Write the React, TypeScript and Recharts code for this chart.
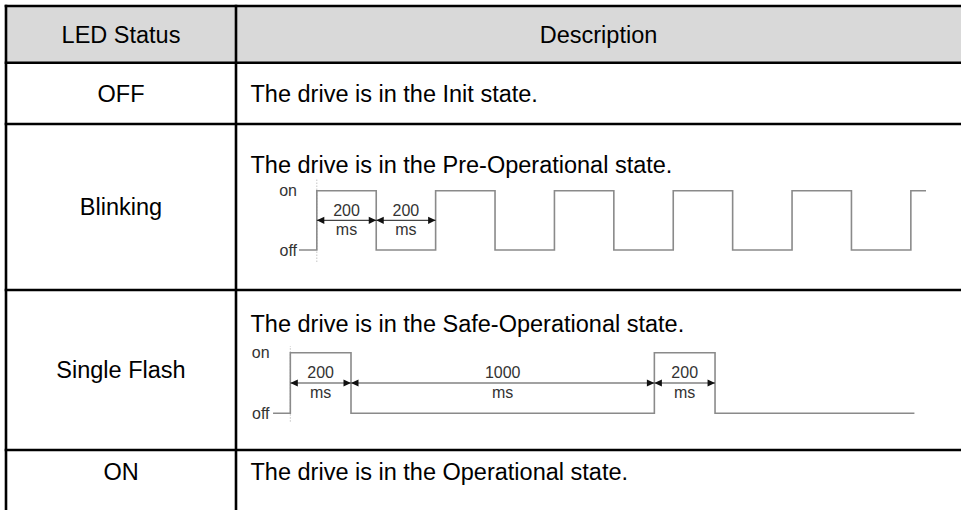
import React from 'react';
import { ComposedChart, Line, Scatter, XAxis, YAxis, ReferenceLine } from 'recharts';

const FONT = '"Liberation Sans", Arial, Helvetica, sans-serif';

// ---- table content ----
const headers = ['LED Status', 'Description'];
const statuses = ['OFF', 'Blinking', 'Single Flash', 'ON'];
const descriptions = [
  'The drive is in the Init state.',
  'The drive is in the Pre-Operational state.',
  'The drive is in the Safe-Operational state.',
  'The drive is in the Operational state.',
];

// ---- waveform data (time in ms, level 0 = off, 1 = on) ----
const blinkTimes = [-60, 0, 200, 400, 600, 800, 1000, 1200, 1400, 1600, 1800, 2000, 2051];
const blinkLevels = [0, 1, 0, 1, 0, 1, 0, 1, 0, 1, 0, 1, 1];
const blinkSpans = [[0, 200], [200, 400]];
const blinkSpanLabels = ['200', '200'];

const flashTimes = [-57, 0, 200, 1200, 1400, 2058];
const flashLevels = [0, 1, 0, 1, 0, 0];
const flashSpans = [[0, 200], [200, 1200], [1200, 1400]];
const flashSpanLabels = ['200', '1000', '200'];

const spanUnit = 'ms';
const levelTicks = [0, 1];
const levelNames = ['off', 'on'];

// ---- layout ----
const rowLineYs = [6, 62.7, 124, 290, 450, 512];
const statusBaselines = [101.5, 215, 378.3, 480];
const descBaselines = [101.5, 173.3, 331.7, 480];

const ArrowHead = (props: any) => {
  const { cx, cy, index } = props;
  if (cx == null || cy == null) return <g key={`n${index}`} />;
  const d = index === 0 ? 1 : -1;
  const L = 7.5;
  const H = 3.6;
  return (
    <polygon
      key={`a${index}`}
      points={`${cx},${cy} ${cx + d * L},${cy - H} ${cx + d * L},${cy + H}`}
      fill="#111"
    />
  );
};

const SpanLabel = (props: any) => {
  const { cx, cy, payload } = props;
  return (
    <g>
      <text x={cx} y={cy - 4.8} textAnchor="middle" fontSize={16} fill="#333" fontFamily={FONT}>
        {payload.top}
      </text>
      <text x={cx} y={cy + 14.8} textAnchor="middle" fontSize={16} fill="#333" fontFamily={FONT}>
        {payload.bottom}
      </text>
    </g>
  );
};

type WaveProps = {
  times: number[];
  levels: number[];
  spans: number[][];
  spanLabels: string[];
  left: number;
  top: number;
  plotWidth: number;
  plotHeight: number;
  xDomain: [number, number];
  yDomain: [number, number];
  tickMargin: number;
};

function Wave(p: WaveProps) {
  const AXW = 30;
  const PAD = 12;
  const wave = p.times.map((t, i) => ({ t, v: p.levels[i] }));
  const labels = p.spans.map((s, i) => ({ t: (s[0] + s[1]) / 2, v: 0.5, top: p.spanLabels[i], bottom: spanUnit }));
  return (
    <div style={{ position: 'absolute', left: p.left - AXW, top: p.top - PAD }}>
      <ComposedChart
        width={AXW + p.plotWidth}
        height={p.plotHeight + 2 * PAD}
        margin={{ top: PAD, right: 0, bottom: PAD, left: 0 }}
      >
        <XAxis type="number" dataKey="t" domain={p.xDomain} hide allowDataOverflow />
        <YAxis
          type="number"
          domain={p.yDomain}
          ticks={levelTicks}
          interval={0}
          tickFormatter={(v: number) => levelNames[levelTicks.indexOf(v)]}
          width={AXW}
          axisLine={false}
          tickLine={false}
          tickSize={0}
          tickMargin={p.tickMargin}
          tick={{ fill: '#333', fontSize: 16, fontFamily: FONT }}
          allowDataOverflow
        />
        <ReferenceLine x={0} stroke="#c4c4c4" strokeWidth={1} strokeDasharray="1.5 1.5" />
        <Line
          type="stepAfter"
          data={wave}
          dataKey="v"
          stroke="#8a8a8a"
          strokeWidth={1.6}
          dot={false}
          activeDot={false}
          isAnimationActive={false}
        />
        {p.spans.map((s, i) => (
          <Line
            key={`span${i}`}
            type="linear"
            data={[{ t: s[0], v: 0.5 }, { t: s[1], v: 0.5 }]}
            dataKey="v"
            stroke="#444"
            strokeWidth={1.2}
            dot={ArrowHead}
            activeDot={false}
            isAnimationActive={false}
          />
        ))}
        <Scatter data={labels} dataKey="v" shape={SpanLabel} isAnimationActive={false} />
      </ComposedChart>
    </div>
  );
}

export default function App() {
  return (
    <div
      style={{
        position: 'absolute',
        left: 0,
        top: 0,
        width: 961,
        height: 510,
        overflow: 'hidden',
        background: '#fff',
        fontFamily: FONT,
      }}
    >
      <svg width={961} height={510} style={{ position: 'absolute', left: 0, top: 0 }}>
        <rect x={6} y={6} width={960} height={56.7} fill="#d9d9d9" />
        {rowLineYs.map((y, i) => (
          <line key={`h${i}`} x1={4.7} x2={965} y1={y} y2={y} stroke="#000" strokeWidth={2.6} />
        ))}
        <line x1={6} x2={6} y1={4.7} y2={515} stroke="#000" strokeWidth={2.6} />
        <line x1={236} x2={236} y1={4.7} y2={515} stroke="#000" strokeWidth={2.6} />
        <text x={121} y={42.6} textAnchor="middle" fontSize={23.5} fill="#000" fontFamily={FONT}>
          {headers[0]}
        </text>
        <text x={598.5} y={42.6} textAnchor="middle" fontSize={23.5} fill="#000" fontFamily={FONT}>
          {headers[1]}
        </text>
        {statuses.map((s, i) => (
          <text key={`s${i}`} x={121} y={statusBaselines[i]} textAnchor="middle" fontSize={23.5} fill="#000" fontFamily={FONT}>
            {s}
          </text>
        ))}
        {descriptions.map((d, i) => (
          <text key={`d${i}`} x={250.5} y={descBaselines[i]} fontSize={23.5} fill="#000" fontFamily={FONT}>
            {d}
          </text>
        ))}
      </svg>
      <Wave
        times={blinkTimes}
        levels={blinkLevels}
        spans={blinkSpans}
        spanLabels={blinkSpanLabels}
        left={299}
        top={178}
        plotWidth={627}
        plotHeight={84}
        xDomain={[-60, 2051]}
        yDomain={[-0.2023, 1.2142]}
        tickMargin={2}
      />
      <Wave
        times={flashTimes}
        levels={flashLevels}
        spans={flashSpans}
        spanLabels={flashSpanLabels}
        left={273.3}
        top={346}
        plotWidth={641.7}
        plotHeight={75.7}
        xDomain={[-57, 2058]}
        yDomain={[-0.1386, 1.1106]}
        tickMargin={3.5}
      />
    </div>
  );
}
